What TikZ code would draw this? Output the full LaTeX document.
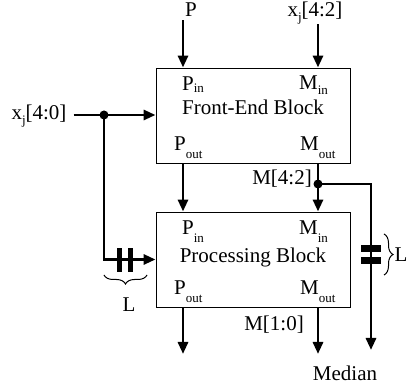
\documentclass[tikz,border=0pt]{standalone}
\usepackage{fontspec}
\setmainfont{Liberation Serif}
\usetikzlibrary{arrows.meta,decorations.pathreplacing}

\newcommand{\lowsub}[2][8pt]{\raisebox{-#1}{\fontsize{13}{13}\selectfont #2}}
\newcommand{\jsub}{\raisebox{-5pt}{\fontsize{13}{13}\selectfont j}}

\tikzset{
  blk/.style  = {draw, line width=0.9pt, minimum width=194pt,
                 minimum height=95pt, inner sep=0pt},
  lbl/.style  = {inner sep=0pt, font=\fontsize{21}{25}\selectfont},
  A/.style    = {-{Triangle[length=12pt,width=10pt]}, line width=2.9pt},
  tap/.style  = {fill=black},
  brc/.style  = {decorate, decoration={brace, amplitude=9pt}, line width=1pt},
}

\begin{document}
\begin{tikzpicture}[x=1pt, y=-1pt]
\useasboundingbox (0,0) rectangle (408,385);

%% ─── Blocks ──────────────────────────────────────────────────────
\node[blk] (fe) at (253,115.5) {};
\node[blk] (pb) at (253,259.5) {};

\node[lbl, anchor=base west] (fePin)  at (182,91)  {P\lowsub[2pt]{in}};
\node[lbl, anchor=base west] (feMin)  at (299,90)  {M\lowsub[5pt]{in}};
\node[lbl, anchor=base]      (feName) at (253,115) {Front-End Block};
\node[lbl, anchor=base west] (fePout) at (174,151) {P\lowsub{out}};
\node[lbl, anchor=base west] (feMout) at (300,151) {M\lowsub{out}};

\node[lbl, anchor=base west] (pbPin)  at (182,235) {P\lowsub{in}};
\node[lbl, anchor=base west] (pbMin)  at (299,235) {M\lowsub{in}};
\node[lbl, anchor=base]      (pbName) at (253,263) {Processing Block};
\node[lbl, anchor=base west] (pbPout) at (174,295) {P\lowsub{out}};
\node[lbl, anchor=base west] (pbMout) at (300,295) {M\lowsub{out}};

%% ─── Inputs ──────────────────────────────────────────────────────
\node[lbl] (inP)  at (191,10)  {P};
\node[lbl] (inM)  at (315,13)  {x\jsub[4:2]};
\node[lbl] (inX)  at (39,116)  {x\jsub[4:0]};

\coordinate (pcol)  at (183,0);
\coordinate (mcol)  at (318,0);
\coordinate (split) at (104,115);
\coordinate (mtap)  at (318,184);
\coordinate (outlv) at (0,354);

\draw[A] (pcol |- inP.south) ++(0,3) -- (pcol |- fe.north);
\draw[A] (mcol |- inM.south) -- (mcol |- fe.north);
\draw[A] ([xshift=7pt]inX.east |- split) -- (split -| fe.west);
\fill[tap] (split) circle (4.5pt);

%% ─── Between the blocks ──────────────────────────────────────────
\draw[A] (pcol |- fe.south) -- (pcol |- pb.north);
\draw[A] (mcol |- fe.south) -- (mcol |- pb.north);
\node[lbl] (m42) at (282,179) {M[4:2]};

%% delayed x_j into Processing Block
\draw[A] (split) |- (pb.west);
\fill (117,248) rectangle (122,272);
\fill (128,248) rectangle (133,272);
\draw[brc] (147,275) -- (104,275);
\node[lbl] (lagL) at (129,305) {L};

%% bypass of M[4:2] to the median output
\node[lbl] (med) at (345,373) {Median};
\draw[A] (mtap) -| (371,350);
\fill[tap] (mtap) circle (4.5pt);
\fill (361,245) rectangle (381,252);
\fill (361,257) rectangle (381,264);
\draw[brc] (384,234) -- (384,275);
\node[lbl] (lagR) at (401,255) {L};

%% ─── Outputs ─────────────────────────────────────────────────────
\draw[A] (pcol |- pb.south) -- (pcol |- outlv);
\draw[A] (mcol |- pb.south) -- (mcol |- outlv);
\node[lbl] (m10) at (274,325) {M[1:0]};

\end{tikzpicture}
\end{document}
